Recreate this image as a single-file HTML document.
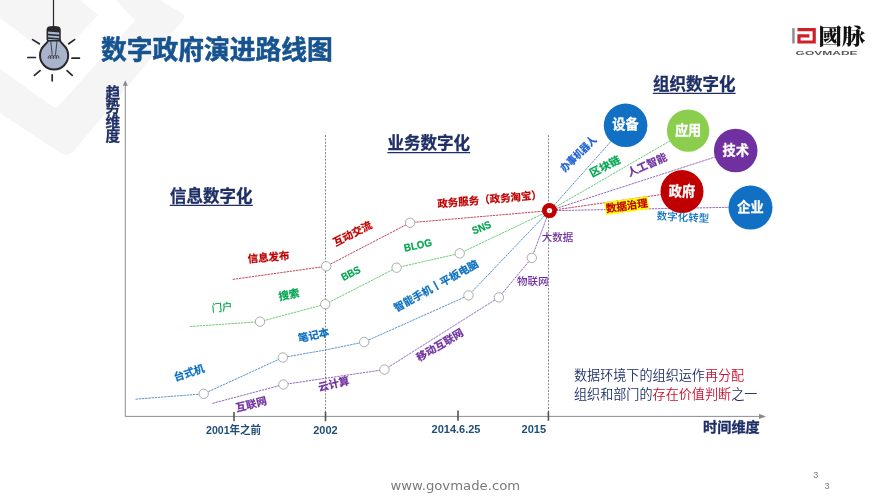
<!DOCTYPE html>
<html lang="zh-CN">
<head>
<meta charset="utf-8">
<title>数字政府演进路线图</title>
<style>
  html, body { margin: 0; padding: 0; background: #ffffff; }
  body { width: 887px; height: 497px; overflow: hidden; position: relative; }
  svg { position: absolute; left: 0; top: 0; display: block; }
  text { font-family: "Liberation Sans", "Noto Sans CJK SC", sans-serif; }
  .b { font-weight: 700; }
  .lab { font-size: 10.5px; font-weight: 700; text-anchor: middle; dominant-baseline: central; stroke-width: 0.2; }
  .thin { font-weight: 500; stroke-width: 0; }
  .red { fill: #c00000; stroke: #c00000; }
  .grn { fill: #00a650; stroke: #00a650; }
  .blu { fill: #0a6fc2; stroke: #0a6fc2; }
  .pur { fill: #7030a0; stroke: #7030a0; }
  .navy { fill: #1f2f66; stroke: #1f2f66; stroke-width: 0.3; }
  .head { font-size: 16.5px; font-weight: 700; text-anchor: middle; fill: #1f2f66; stroke: #1f2f66; stroke-width: 0.3; }
  .tick { font-size: 11px; font-weight: 700; text-anchor: middle; fill: #1f4e79; }
  .dash { fill: none; stroke-width: 0.72; stroke-dasharray: 2.4 0.8; }
  .node { fill: #ffffff; stroke: #909090; stroke-width: 0.75; }
  .ball { font-size: 13.2px; font-weight: 700; fill: #ffffff; stroke: #ffffff; stroke-width: 0.3; text-anchor: middle; dominant-baseline: central; }
</style>
</head>
<body>
<svg width="887" height="497" viewBox="0 0 887 497">
  <rect x="0" y="0" width="887" height="497" fill="#ffffff"/>

  <!-- faint watermark -->
  <g id="wm" fill="#f5f5f6">
    <polygon points="0,0 80,0 98,15 56,60 0,18"/>
    <path d="M0 69 L51.5 105.8 Q56 109 59.6 105 L135 20.5 L116 0 L160 0 L182.5 13.8 Q186 16 183.2 19.4 L74.4 150.3 Q68 158 59.7 152.5 L0 113 Z"/>
  </g>

  <!-- bulb icon -->
  <g id="bulb">
    <line x1="53.5" y1="0" x2="53.5" y2="28" stroke="#26262b" stroke-width="1.2"/>
    <path d="M48.3 40 C48.2 42 46.8 43 44.7 44.9 A14.1 14.1 0 1 0 63.5 44.9 C61.4 43 60 42 59.9 40 Z" fill="#a8b3cc" stroke="#27272c" stroke-width="2" stroke-linejoin="round"/>
    <path d="M47.3 30.2 Q47.3 27.2 50.3 27 Q53.6 26.4 57 27 Q60 27.2 60 30.2 L60 39.6 Q60 40.8 58.6 40.8 L48.7 40.8 Q47.3 40.8 47.3 39.6 Z" fill="#a8b3cc" stroke="#27272c" stroke-width="1.5"/>
    <path d="M47.3 31.6 L47.3 30 Q47.3 27.2 50.3 27 Q53.6 26.4 57 27 Q60 27.2 60 30 L60 32.4 Z" fill="#27272c"/>
    <path d="M47.5 34.6 L59.8 35.6 M47.5 38 L59.8 39" stroke="#27272c" stroke-width="1.5" fill="none"/>
    <path d="M50.8 41.2 L52.2 54.6 M57 41.2 L55.5 54.6" stroke="#27272c" stroke-width="0.8" fill="none"/>
    <path d="M48.4 58.6 C47.6 55.4 50.8 54.6 51 57.2 C51.2 59.4 49.6 59 50.4 56.6 C51 54.8 53.6 54.8 53.8 57.2 C54 59.4 52.6 59 53.2 56.6 C53.8 54.8 56.4 54.8 56.6 57.2 C56.8 59.4 55.4 59 56 56.6 C56.6 54.6 59.4 55.2 58.8 58.6" stroke="#27272c" stroke-width="0.8" fill="none"/>
    <g stroke="#27272c" stroke-width="1.7" stroke-linecap="round">
      <line x1="27.8" y1="57.5" x2="35.4" y2="57.5"/>
      <line x1="72" y1="58.2" x2="79.4" y2="58.2"/>
      <line x1="32.6" y1="39.6" x2="39.3" y2="43.8"/>
      <line x1="68.7" y1="43.8" x2="74.6" y2="39.6"/>
      <line x1="34.4" y1="75.4" x2="40.1" y2="70.7"/>
      <line x1="67" y1="70.7" x2="72.2" y2="75.4"/>
      <line x1="52.2" y1="74.8" x2="52.2" y2="80.8"/>
    </g>
  </g>

  <!-- title -->
  <text x="101" y="59" class="b" font-size="25.75" fill="#17548f" stroke="#17548f" stroke-width="0.55" stroke-linejoin="round">数字政府演进路线图</text>

  <!-- logo -->
  <g id="logo">
    <rect x="792.2" y="28.1" width="2.5" height="15.4" fill="#8f8f8f"/>
    <path d="M797.5 29.6 L814.2 29.6 L814.2 42 L799 42 L799 35.8 L809.4 35.8" fill="none" stroke="#cf1f27" stroke-width="3.2" stroke-linejoin="miter"/>
    <text x="818.6" y="43.5" font-size="21.8" font-weight="900" fill="#111" style="font-family:'Liberation Serif','Noto Serif CJK SC',serif" textLength="46.6" lengthAdjust="spacingAndGlyphs">國脉</text>
    <text x="795.6" y="54.6" font-size="6" font-weight="700" fill="#555" textLength="62" lengthAdjust="spacingAndGlyphs">GOVMADE</text>
  </g>

  <!-- axes -->
  <g id="axes">
    <line x1="125.3" y1="84" x2="125.3" y2="416.4" stroke="#8f8f8f" stroke-width="1"/>
    <polygon points="125.3,80.3 127.8,85.8 122.8,85.8" fill="#8a8a8a"/>
    <line x1="125.3" y1="416.4" x2="760" y2="416.4" stroke="#8f8f8f" stroke-width="1"/>
    <polygon points="766,416.4 759,413.8 759,419" fill="#8a8a8a"/>
    <g stroke="#555" stroke-width="1.6">
      <line x1="234" y1="412" x2="234" y2="421.3"/>
      <line x1="325.5" y1="412" x2="325.5" y2="421.3"/>
      <line x1="458" y1="410.4" x2="458" y2="420.8"/>
      <line x1="548.4" y1="411.5" x2="548.4" y2="420.8"/>
    </g>
    <line x1="325.5" y1="135" x2="325.5" y2="412" stroke="#606060" stroke-width="0.75" stroke-dasharray="2 1.4"/>
    <line x1="548.5" y1="135" x2="548.5" y2="412" stroke="#606060" stroke-width="0.75" stroke-dasharray="2 1.4"/>
  </g>

  <!-- y-axis label -->
  <g class="b navy" font-size="14.6" text-anchor="middle">
    <text x="112.9" y="98">趋</text>
    <text x="112.9" y="112.4">势</text>
    <text x="112.9" y="126.8">维</text>
    <text x="112.9" y="141.2">度</text>
  </g>
  <text x="703" y="431.9" class="b navy" font-size="14.2">时间维度</text>

  <!-- tick labels -->
  <text x="233.6" y="433.6" class="tick" textLength="55" lengthAdjust="spacingAndGlyphs">2001年之前</text>
  <text x="325.5" y="433.6" class="tick">2002</text>
  <text x="456" y="433.2" class="tick">2014.6.25</text>
  <text x="533.8" y="433.2" class="tick">2015</text>

  <!-- section heads -->
  <text x="211.3" y="202.2" class="head">信息数字化</text>
  <line x1="169.8" y1="205.4" x2="252.8" y2="205.4" stroke="#1f2f66" stroke-width="1.3"/>
  <text x="428.8" y="149.4" class="head">业务数字化</text>
  <line x1="387.4" y1="152.7" x2="470.2" y2="152.7" stroke="#1f2f66" stroke-width="1.3"/>
  <text x="694.2" y="90.4" class="head">组织数字化</text>
  <line x1="652.8" y1="93.4" x2="735.6" y2="93.4" stroke="#1f2f66" stroke-width="1.3"/>

  <!-- trend lines -->
  <g id="lines">
    <polyline class="dash" stroke="#a8001c" points="232.7,279.4 326.2,266.3 410.1,222.7 549.3,210.7"/>
    <polyline class="dash" stroke="#2db83f" points="189.9,326.5 260,321.7 325.3,304.2 396.6,267.7 459.7,253.4 549.3,210.7"/>
    <polyline class="dash" stroke="#1f68ad" points="135.5,399.2 203.7,393.8 282.8,357.5 325.5,350 364.2,342 468.5,295.4 549.3,210.7"/>
    <polyline class="dash" stroke="#6a2fa5" points="212.4,403.4 283.4,384.5 384.5,369.6 498.9,297.4 531.8,257.9 549.3,210.7"/>
    <!-- fan to balls -->
    <line class="dash" stroke="#1f68ad" x1="549.3" y1="210.7" x2="625.5" y2="125"/>
    <line class="dash" stroke="#2db83f" x1="549.3" y1="210.7" x2="688.1" y2="130.4"/>
    <line class="dash" stroke="#6a2fa5" x1="549.3" y1="210.7" x2="735.2" y2="150.5"/>
    <line class="dash" stroke="#a8001c" x1="549.3" y1="210.7" x2="681.7" y2="191.6"/>
    <line class="dash" stroke="#6a2fa5" x1="549.3" y1="210.7" x2="750.5" y2="206.9"/>
  </g>

  <!-- nodes -->
  <g id="nodes">
    <circle class="node" cx="326.2" cy="266.3" r="4.7"/>
    <circle class="node" cx="410.1" cy="222.7" r="4.7"/>
    <circle class="node" cx="260" cy="321.7" r="4.7"/>
    <circle class="node" cx="325.3" cy="304.2" r="4.7"/>
    <circle class="node" cx="396.6" cy="267.7" r="4.7"/>
    <circle class="node" cx="459.7" cy="253.4" r="4.7"/>
    <circle class="node" cx="203.7" cy="393.8" r="4.7"/>
    <circle class="node" cx="282.8" cy="357.5" r="4.7"/>
    <circle class="node" cx="364.2" cy="342" r="4.7"/>
    <circle class="node" cx="468.5" cy="295.4" r="4.7"/>
    <circle class="node" cx="283.4" cy="384.5" r="4.7"/>
    <circle class="node" cx="384.5" cy="369.6" r="4.7"/>
    <circle class="node" cx="498.9" cy="297.4" r="4.7"/>
    <circle class="node" cx="531.8" cy="257.9" r="4.7"/>
  </g>

  <!-- hub -->
  <circle cx="549.5" cy="210.6" r="7.5" fill="#c00000"/>
  <circle cx="549.5" cy="210.6" r="2.7" fill="#ffffff"/>
  <circle cx="549.5" cy="210.6" r="0.9" fill="#e9a0a0"/>

  <!-- balls -->
  <g id="balls">
    <circle cx="625.6" cy="125.3" r="21.8" fill="#1170c4"/>
    <circle cx="688.1" cy="130.6" r="21.2" fill="#8bcd4c"/>
    <circle cx="735.7" cy="150.5" r="21.8" fill="#7030a0"/>
    <circle cx="682" cy="191.6" r="21.5" fill="#c00000"/>
    <circle cx="750.5" cy="207.6" r="22" fill="#1170c4"/>
    <text class="ball" x="625.5" y="124.5">设备</text>
    <text class="ball" x="688.1" y="130">应用</text>
    <text class="ball" x="735.7" y="150">技术</text>
    <text class="ball" x="682" y="191.2">政府</text>
    <text class="ball" x="750.5" y="207.2">企业</text>
  </g>

  <!-- labels -->
  <g id="labels">
    <text class="lab red" x="268.5" y="257" transform="rotate(-5 268.5 257)">信息发布</text>
    <text class="lab grn thin" x="222" y="307" transform="rotate(-5 222 307)">门户</text>
    <text class="lab grn" x="289" y="294.5" transform="rotate(-12 289 294.5)">搜索</text>
    <text class="lab blu" x="189" y="372.5" transform="rotate(-18 189 372.5)">台式机</text>
    <text class="lab blu" x="313.5" y="335" transform="rotate(-12 313.5 335)">笔记本</text>
    <text class="lab pur" x="251.2" y="404" transform="rotate(-14 251.2 404)">互联网</text>
    <text class="lab pur" x="333.8" y="383.7" transform="rotate(-13 333.8 383.7)">云计算</text>
    <text class="lab red" x="352.4" y="233.4" transform="rotate(-27 352.4 233.4)">互动交流</text>
    <text class="lab red" x="489.6" y="199.1" font-size="10.9" transform="rotate(-5 489.6 199.1)">政务服务（政务淘宝）</text>
    <text class="lab grn" x="350.6" y="273" font-size="10.2" textLength="20" lengthAdjust="spacingAndGlyphs" transform="rotate(-27 350.6 273)">BBS</text>
    <text class="lab grn" x="417.8" y="244.8" font-size="10.2" textLength="28.4" lengthAdjust="spacingAndGlyphs" transform="rotate(-12 417.8 244.8)">BLOG</text>
    <text class="lab grn" x="481.4" y="227.2" font-size="10.2" textLength="19.6" lengthAdjust="spacingAndGlyphs" transform="rotate(-22 481.4 227.2)">SNS</text>
    <text class="lab blu" x="436" y="285.5" transform="rotate(-29 436 285.5)">智能手机丨平板电脑</text>
    <text class="lab pur" x="439.7" y="344.8" transform="rotate(-31 439.7 344.8)">移动互联网</text>
    <text class="lab pur thin" x="532.7" y="281.2">物联网</text>
    <text class="lab pur thin" x="557.4" y="237.4">大数据</text>
    <text class="lab" fill="#1b5fd1" font-size="11.5" stroke="#1b5fd1" x="578.2" y="153.8" transform="rotate(-44.5 578.2 153.8)" textLength="45.5" lengthAdjust="spacingAndGlyphs">办事机器人</text>
    <text class="lab grn" x="604.9" y="166.2" transform="rotate(-27.5 604.9 166.2)" textLength="33" lengthAdjust="spacingAndGlyphs">区块链</text>
    <text class="lab pur" x="647" y="164.5" font-size="10.3" transform="rotate(-24 647 164.5)">人工智能</text>
    <rect x="605" y="199.2" width="43.6" height="12.8" fill="#ffff00" transform="rotate(-8 626.8 205.6)"/>
    <text class="lab red" x="626.8" y="205.6" transform="rotate(-8 626.8 205.6)">数据治理</text>
    <text class="lab blu thin" x="682.9" y="217" transform="rotate(3 682.9 217)">数字化转型</text>
  </g>

  <!-- note -->
  <text x="574" y="379.6" font-size="13.1" fill="#1f2f66" font-weight="350">数据环境下的组织运作<tspan fill="#c8102e">再分配</tspan></text>
  <text x="574" y="398.7" font-size="13.1" fill="#1f2f66" font-weight="350">组织和部门的<tspan fill="#c8102e">存在价值判断</tspan>之一</text>

  <!-- footer -->
  <text x="390.5" y="490" font-size="12.2" fill="#7a7a7a" style="font-family:'DejaVu Sans','Liberation Sans',sans-serif" textLength="129.6" lengthAdjust="spacingAndGlyphs">www.govmade.com</text>
  <text x="815.7" y="477.9" font-size="9.2" fill="#7d7d7d" text-anchor="middle">3</text>
  <text x="827" y="488.9" font-size="9.2" fill="#7d7d7d" text-anchor="middle">3</text>
</svg>
</body>
</html>
